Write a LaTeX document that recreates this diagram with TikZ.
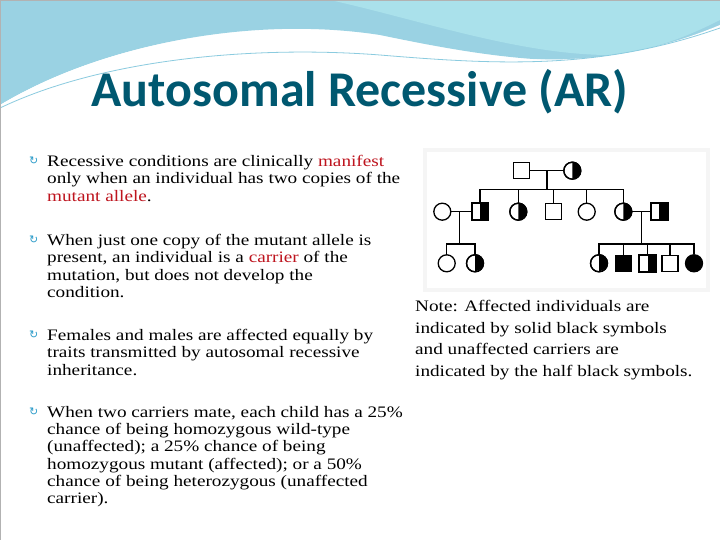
\documentclass[tikz,border=0pt]{standalone}
\usepackage{fontspec}
\setmainfont[FakeStretch=1.2]{Liberation Serif}
\newfontfamily\titlefont{Carlito}
\usetikzlibrary{positioning}
\definecolor{titleblue}{RGB}{0,88,112}
\definecolor{wavelight}{RGB}{170,225,235}
\definecolor{wavedark}{RGB}{110,190,215}
\definecolor{manred}{RGB}{190,20,30}
\tikzset{
  male/.style={draw, line width=1.3pt, fill=white, minimum size=16pt, inner sep=0pt},
  female/.style={draw, line width=1.3pt, fill=white, circle, minimum size=17pt, inner sep=0pt},
  txt/.style={anchor=north west, align=left, font=\fontsize{16}{17.3}\selectfont, inner sep=0pt},
  bul/.style={anchor=north west, inner sep=0pt, text=cyan!60!teal, font=\fontsize{11}{11}\selectfont},
  ped/.style={line width=1.3pt}
}
\newcommand{\halfsq}[1]{\fill (#1.north) rectangle (#1.south east); \draw[ped] (#1.north west) rectangle (#1.south east);}
\newcommand{\halfci}[1]{\fill (#1.north) arc[start angle=90, end angle=-90, radius=8.5pt] -- cycle; \draw[ped] (#1) circle[radius=8.5pt];}
\begin{document}
\begin{tikzpicture}[x=1pt,y=-1pt]
    \useasboundingbox (0,0) rectangle (720,540);
    \fill[white] (0,0) rectangle (720,540);
    % Top waves
    \fill[wavedark!70] (0,0) -- (720,0) -- (720,40) .. controls (600,75) and (500,60) .. (380,35) .. controls (250,15) and (100,45) .. (0,105) -- cycle;
    \fill[wavelight] (330,0) .. controls (420,20) and (520,55) .. (610,55) .. controls (660,50) and (700,30) .. (720,20) -- (720,0) -- cycle;
    \fill[white] (0,105) .. controls (100,45) and (250,15) .. (380,40) .. controls (500,62) and (600,75) .. (720,25) -- (720,540) -- (0,540) -- cycle;
    \draw[wavedark!80, line width=0.8pt] (0,108) .. controls (100,60) and (250,45) .. (380,55) .. controls (500,65) and (600,70) .. (720,28);
    \draw[gray!60] (0,0) rectangle (720,540);

    % Title
    \node[font=\titlefont\bfseries\fontsize{50}{50}\selectfont, text=titleblue] (title) at (360,92) {Autosomal Recessive (AR)};

    % Bullets
    \foreach \y in {155,234,329,406} {
        \node[bul] at (29,\y+2) {\fontspec{DejaVu Sans}↻};
    }
    \node[txt] (b1) at (47,155) {Recessive conditions are clinically \textcolor{manred}{manifest}\\ only when an individual has two copies of the\\ \textcolor{manred}{mutant allele}.};
    \node[txt] (b2) at (47,234) {When just one copy of the mutant allele is\\ present, an individual is a \textcolor{manred}{carrier} of the\\ mutation, but does not develop the\\ condition.};
    \node[txt] (b3) at (47,329) {Females and males are affected equally by\\ traits transmitted by autosomal recessive\\ inheritance.};
    \node[txt] (b4) at (47,406) {When two carriers mate, each child has a 25\%\\ chance of being homozygous wild-type\\ (unaffected); a 25\% chance of being\\ homozygous mutant (affected); or a 50\%\\ chance of being heterozygous (unaffected\\ carrier).};

    \node[txt, font=\fontsize{16}{21.6}\selectfont] (note) at (415,300) {Note: Affected individuals are\\ indicated by solid black symbols\\ and unaffected carriers are\\ indicated by the half black symbols.};

    % Pedigree panel
    \fill[gray!8] (423,148) rectangle (710,292);
    \fill[white] (427,152) rectangle (706,288);

    % Generation I
    \node[male] (gf) at (521.7,170.7) {};
    \node[female] (gm) at (572.3,170.7) {};
    % Generation II
    \node[female] (w1) at (442.3,211.7) {};
    \node[male] (s1) at (480,211.7) {};
    \node[female] (d1) at (518.3,211.7) {};
    \node[male] (s2) at (553.3,211.7) {};
    \node[female] (d2) at (586.7,211.7) {};
    \node[female] (d3) at (623.3,211.7) {};
    \node[male] (h3) at (659.3,211.7) {};
    % Generation III
    \node[female] (c1) at (446.7,263.3) {};
    \node[female] (c2) at (475,263.3) {};
    \node[female] (c3) at (599,263.3) {};
    \node[male] (c4) at (623.3,263.3) {};
    \node[male] (c5) at (647.7,263.3) {};
    \node[male] (c6) at (670,263.3) {};
    \node[female] (c7) at (694,263.3) {};

    % Lines
    \draw[ped] (gf) -- (gm);
    \draw[ped] (547,170.7) -- (547,189.3);
    \draw[ped] (s1.north) |- (547,189.3) -| (d3.north);
    \foreach \n in {d1,s2,d2} \draw[ped] (\n.north) -- (\n.north |- 0,189.3);
    \draw[ped] (w1) -- (s1);
    \draw[ped] (459.3,211.7) -- (459.3,244);
    \draw[ped] (c1.north) |- (c2.north |- 0,244) -- (c2.north);
    \draw[ped] (d3) -- (h3);
    \draw[ped] (641.3,211.7) -- (641.3,244);
    \draw[ped] (c3.north) |- (c7.north |- 0,244) -- (c7.north);
    \foreach \n in {c4,c5,c6} \draw[ped] (\n.north) -- (\n.north |- 0,244);

    % Shading
    \halfci{gm} \halfsq{s1} \halfci{d1} \halfci{d3} \halfsq{h3}
    \halfci{c2} \halfci{c3} \halfsq{c5}
    \fill (c4.north west) rectangle (c4.south east);
    \fill (c7) circle[radius=8.5pt];
\end{tikzpicture}
\end{document}
